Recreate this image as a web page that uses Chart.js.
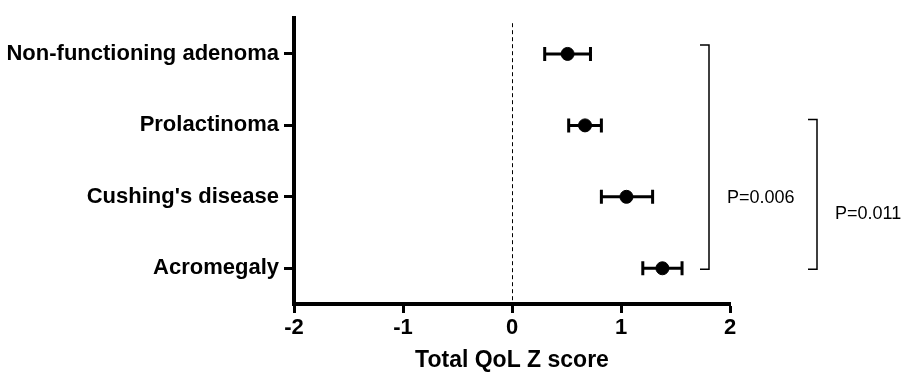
<!DOCTYPE html>
<html>
<head>
<meta charset="utf-8">
<script src="https://cdn.jsdelivr.net/npm/chart.js@4/dist/chart.umd.min.js"></script>
<style>
  html, body { margin: 0; padding: 0; background: #fff; }
  #wrap { width: 917px; height: 372px; }
</style>
</head>
<body>
<div id="wrap"><canvas id="qolChart" width="917" height="372"></canvas></div>
<script>
var groups = ["Non-functioning adenoma", "Prolactinoma", "Cushing's disease", "Acromegaly"];
var zMean = [0.51, 0.67, 1.05, 1.38];
var zLow = [0.30, 0.52, 0.82, 1.20];
var zHigh = [0.72, 0.82, 1.29, 1.56];
var xTicks = [-2, -1, 0, 1, 2];
var pLabels = ["P=0.006", "P=0.011"];
var pFrom = [0, 1];
var pTo = [3, 3];

var fontFamily = "'Liberation Sans', Arial, Helvetica, sans-serif";

var points = [];
for (let i = 0; i < groups.length; i++) {
  points.push({ x: zMean[i], y: groups[i] });
}

// error bars, zero line and the p-value brackets
var extras = {
  id: "extras",
  beforeDatasetsDraw: function (chart) {
    var c = chart.ctx;
    var xs = chart.scales.x;
    var ys = chart.scales.y;
    var area = chart.chartArea;

    c.save();
    // dashed zero line
    c.strokeStyle = "#000";
    c.lineWidth = 1;
    c.setLineDash([4, 3]);
    var x0 = Math.round(xs.getPixelForValue(0)) + 0.5;
    c.beginPath();
    c.moveTo(x0, area.top + 5);
    c.lineTo(x0, area.bottom);
    c.stroke();
    c.setLineDash([]);

    // error bars
    c.lineWidth = 3;
    for (let i = 0; i < groups.length; i++) {
      var y = ys.getPixelForValue(i);
      var a = xs.getPixelForValue(zLow[i]);
      var b = xs.getPixelForValue(zHigh[i]);
      c.beginPath();
      c.moveTo(a, y);
      c.lineTo(b, y);
      c.moveTo(a, y - 7);
      c.lineTo(a, y + 7);
      c.moveTo(b, y - 7);
      c.lineTo(b, y + 7);
      c.stroke();
    }
    c.restore();
  },
  afterDraw: function (chart) {
    var c = chart.ctx;
    var xs = chart.scales.x;
    var ys = chart.scales.y;
    var bx = [xs.right - 21, xs.right + 87];
    var topPad = [9, 6];

    c.save();
    c.strokeStyle = "#000";
    c.fillStyle = "#000";
    c.lineWidth = 1.5;
    c.font = "18px " + fontFamily;
    c.textBaseline = "middle";
    c.textAlign = "left";
    for (let k = 0; k < pLabels.length; k++) {
      var y1 = ys.getPixelForValue(pFrom[k]) - topPad[k];
      var y2 = ys.getPixelForValue(pTo[k]) + 1;
      c.beginPath();
      c.moveTo(bx[k] - 9, y1);
      c.lineTo(bx[k], y1);
      c.lineTo(bx[k], y2);
      c.lineTo(bx[k] - 9, y2);
      c.stroke();
      c.fillText(pLabels[k], bx[k] + 18, k === 0 ? (y1 + y2) / 2 + 41 : (y1 + y2) / 2 + 20);
    }
    c.restore();
  }
};

var ctx = document.getElementById("qolChart").getContext("2d");
var chart = new Chart(ctx, {
  type: "scatter",
  data: {
    datasets: [
      {
        label: "Total QoL Z score",
        data: points,
        backgroundColor: "#000",
        borderColor: "#000",
        pointRadius: 6.5,
        pointHoverRadius: 6.5,
      },
    ],
  },
  options: {
    responsive: false,
    animation: false,
    layout: { padding: { top: 13, right: 187, left: 0, bottom: 0 } },
    plugins: {
      legend: { display: false },
      tooltip: { enabled: false },
    },
    scales: {
      x: {
        type: "linear",
        min: -2,
        max: 2,
        afterBuildTicks: function (scale) {
          scale.ticks = xTicks.map(function (v) { return { value: v }; });
        },
        afterFit: function (scale) {
          scale.height = 68;
        },
        border: { display: true, color: "#000", width: 4 },
        grid: {
          drawOnChartArea: false,
          drawTicks: true,
          tickLength: 9,
          tickWidth: 3,
          tickColor: "#000",
        },
        ticks: {
          color: "#000",
          padding: 2,
          font: { family: fontFamily, size: 22, weight: "bold" },
        },
        title: {
          display: true,
          text: "Total QoL Z score",
          color: "#000",
          padding: { top: 0, bottom: 0 },
          font: { family: fontFamily, size: 23, weight: "bold", lineHeight: 1 },
        },
      },
      y: {
        type: "category",
        labels: groups,
        offset: true,
        afterFit: function (scale) {
          scale.width = 294;
        },
        border: { display: true, color: "#000", width: 4 },
        grid: {
          offset: false,
          drawOnChartArea: false,
          drawTicks: true,
          tickLength: 10,
          tickWidth: 3,
          tickColor: "#000",
        },
        ticks: {
          color: "#000",
          padding: 5,
          font: { family: fontFamily, size: 22, weight: "bold" },
        },
      },
    },
  },
  plugins: [extras],
});
</script>
</body>
</html>
